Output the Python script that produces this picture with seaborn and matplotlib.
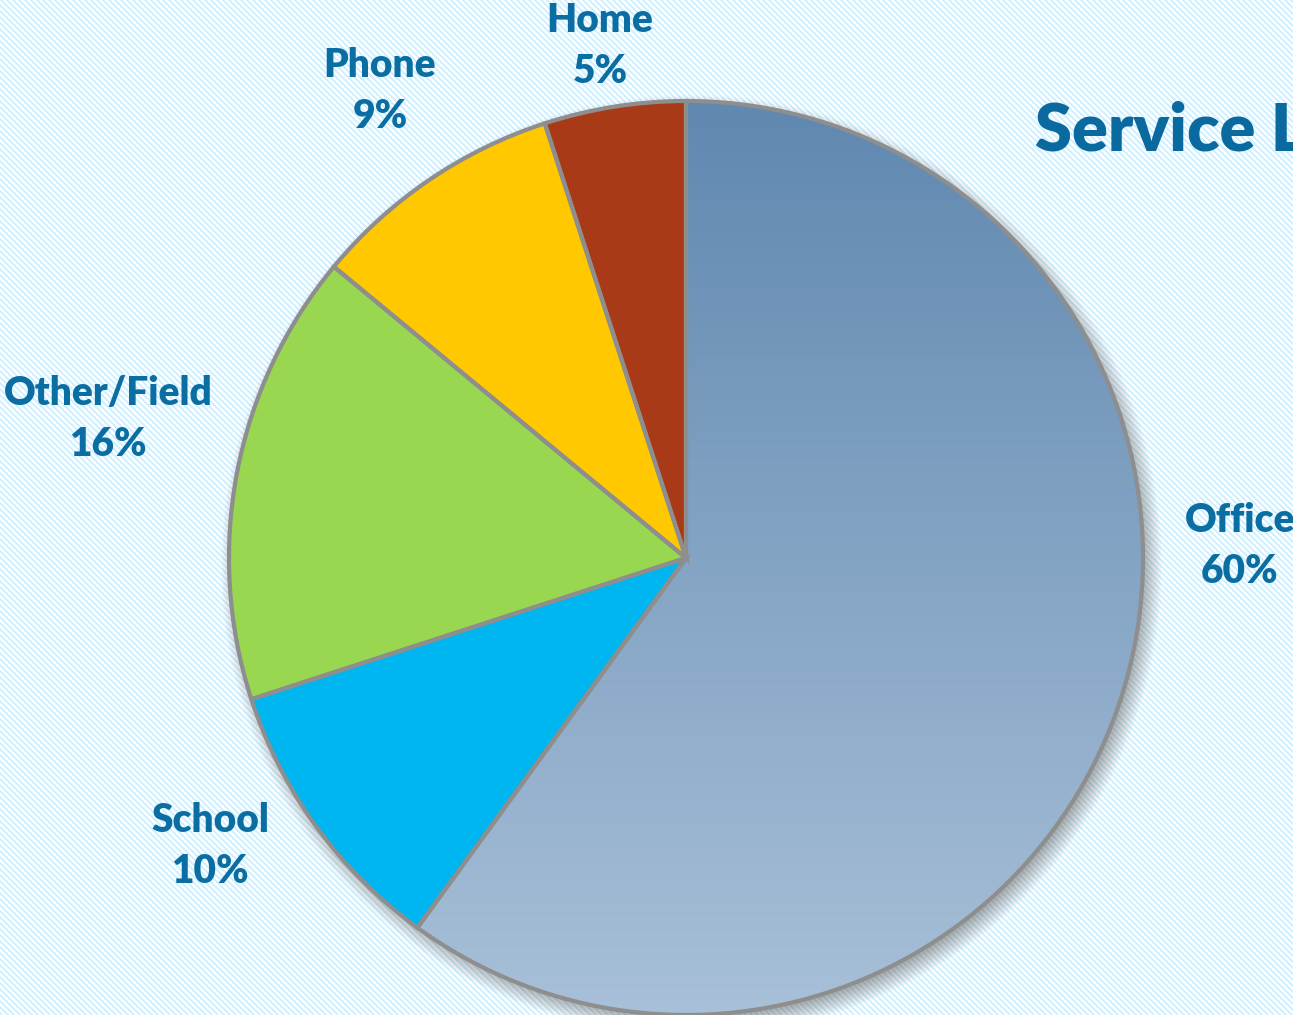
import numpy as np
import matplotlib
matplotlib.use("Agg")
import matplotlib.pyplot as plt
import seaborn as sns

# Service location shares (percent), clockwise from 12 o'clock
locations = ["Office", "School", "Other/Field", "Phone", "Home"]
shares = [60, 10, 16, 9, 5]
slice_colors = ["#7f9fc3", "#00b6f0", "#9ad751", "#ffc800", "#a83a17"]
title_text = "Service Locations"

sns.set_theme(style="white")
plt.rcParams["font.family"] = ["Lato", "DejaVu Sans"]

W, H = 1293, 1015
fig = plt.figure(figsize=(W / 100, H / 100), dpi=100)

# striped backdrop
yy, xx = np.mgrid[0:H, 0:W]
stripe = ((xx - yy) % 6) < 3
bg = np.ones((H, W, 3))
bg[stripe] = np.array([214, 239, 252]) / 255
fig.figimage(bg, 0, 0, zorder=-5)

ax = fig.add_axes([0, 0, 1, 1], zorder=2)
ax.set_xlim(0, W)
ax.set_ylim(0, H)
ax.set_aspect("equal")
ax.axis("off")
ax.patch.set_alpha(0)

cx, cy_px, R = 686, 558, 457
cy = H - cy_px

# soft drop shadow under the pie
d = np.hypot(xx - cx - 5, yy - cy_px - 7)
sh = np.zeros((H, W, 4))
sh[..., :3] = 0.3
sh[..., 3] = 0.45 * np.clip((R + 14 - d) / 20, 0, 1)
ax.imshow(sh, extent=(0, W, 0, H), origin="upper", zorder=1, interpolation="bilinear")

palette = sns.color_palette(slice_colors)
wedges, _ = ax.pie(shares, colors=palette, startangle=90, counterclock=False,
                   center=(cx, cy), radius=R, frame=True,
                   wedgeprops=dict(linewidth=0, zorder=2))

# vertical gradient on the Office slice
grad = np.linspace(0, 1, 256)[:, None]
top = np.array([96, 136, 176]) / 255
bot = np.array([168, 192, 216]) / 255
gimg = top[None, None, :] * (1 - grad[..., None]) + bot[None, None, :] * grad[..., None]
gimg = np.repeat(gimg, 2, axis=1)
im = ax.imshow(gimg, extent=(cx - R, cx + R, cy - R, cy + R), origin="upper",
               zorder=3, interpolation="bilinear", aspect="auto")
im.set_clip_path(wedges[0])

# slice outlines
ax.pie(shares, startangle=90, counterclock=False, center=(cx, cy), radius=R, frame=True,
       wedgeprops=dict(fill=False, edgecolor="#8e8e8e", linewidth=3, zorder=4))

ax.set_xlim(0, W)
ax.set_ylim(0, H)
ax.set_aspect("equal")
ax.axis("off")

label_pos = {
    "Office": (1240, 546),
    "School": (210, 846),
    "Other/Field": (108, 419),
    "Phone": (380, 91),
    "Home": (600, 46),
}
txt_color = "#0b6ea3"
for name, val in zip(locations, shares):
    x, y = label_pos[name]
    ax.text(x, H - y, f"{name}\n{val}%", ha="center", va="center", multialignment="center",
            fontsize=28, fontweight="heavy", color=txt_color, linespacing=1.45, zorder=6)

ax.text(1035, H - 131, title_text, ha="left", va="center", fontsize=48,
        fontweight="heavy", color="#0a6aa0", zorder=6, clip_on=False)

fig.savefig("out.png", dpi=100)
